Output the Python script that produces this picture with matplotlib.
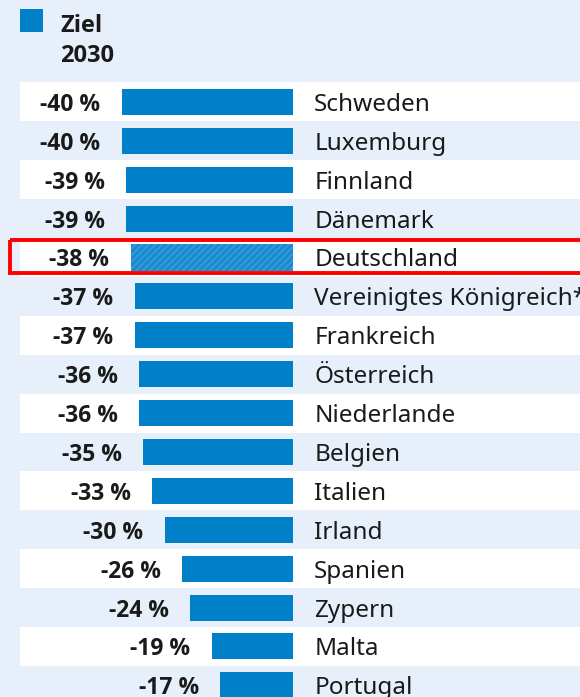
import matplotlib
matplotlib.use("Agg")
import matplotlib.pyplot as plt
from matplotlib.patches import Rectangle

plt.rcParams["font.family"] = ["Noto Sans", "DejaVu Sans"]
BOLD = ["Open Sans", "DejaVu Sans"]

COUNTRIES = ["Schweden", "Luxemburg", "Finnland", "Dänemark", "Deutschland",
             "Vereinigtes Königreich*", "Frankreich", "Österreich", "Niederlande",
             "Belgien", "Italien", "Irland", "Spanien", "Zypern", "Malta", "Portugal"]
TARGETS = [40, 40, 39, 39, 38, 37, 37, 36, 36, 35, 33, 30, 26, 24, 19, 17]
HIGHLIGHT = "Deutschland"

BG = "#e7f0fa"
BLUE = "#0080c8"

fig = plt.figure(figsize=(5.8, 6.97), dpi=100)
fig.patch.set_facecolor(BG)
ax = fig.add_axes([0, 0, 1, 1])
ax.set_facecolor(BG)
# 1 unit = 1 percentage point (about 4.28 px), bars end at x=0
ax.set_xlim(-68.5, 67.0)
ax.set_ylim(15.3, -2.62)
ax.axis("off")

for i, (name, val) in enumerate(zip(COUNTRIES, TARGETS)):
    if i % 2 == 0:
        ax.add_patch(Rectangle((-63.8, i - 0.5), 140, 1.0, facecolor="white",
                               edgecolor="none", zorder=0))
    if name == HIGHLIGHT:
        ax.barh(i, -val, height=0.67, color="#1a8bd0", edgecolor="#3d9fd9",
                hatch="/////", linewidth=0, zorder=2)
    else:
        ax.barh(i, -val, height=0.67, color=BLUE, linewidth=0, zorder=2)
    ax.text(-val - 5.0, i, f"-{val} %", ha="right", va="center_baseline",
            fontsize=16.5, fontweight="bold", family=BOLD, color="#1a1a1a", zorder=3)
    ax.text(4.9, i, name, ha="left", va="center_baseline",
            fontsize=17.5, color="#1a1a1a", zorder=3)

hi = COUNTRIES.index(HIGHLIGHT)
ax.add_patch(Rectangle((-66.2, hi - 0.46), 140, 0.86, facecolor="none",
                       edgecolor="#ff0000", linewidth=2.8, zorder=4))

# legend
ax.add_patch(Rectangle((-63.8, -2.39), 5.4, 0.6, transform=ax.transData,
                       facecolor=BLUE, edgecolor="none", clip_on=False))
ax.text(-54.5, -2.02, "Ziel", ha="left", va="center_baseline", fontsize=17,
        fontweight="bold", family=BOLD, color="#1a1a1a")
ax.text(-54.5, -1.25, "2030", ha="left", va="center_baseline", fontsize=17,
        fontweight="bold", family=BOLD, color="#1a1a1a")

fig.savefig("out.png", dpi=100, facecolor=BG)
